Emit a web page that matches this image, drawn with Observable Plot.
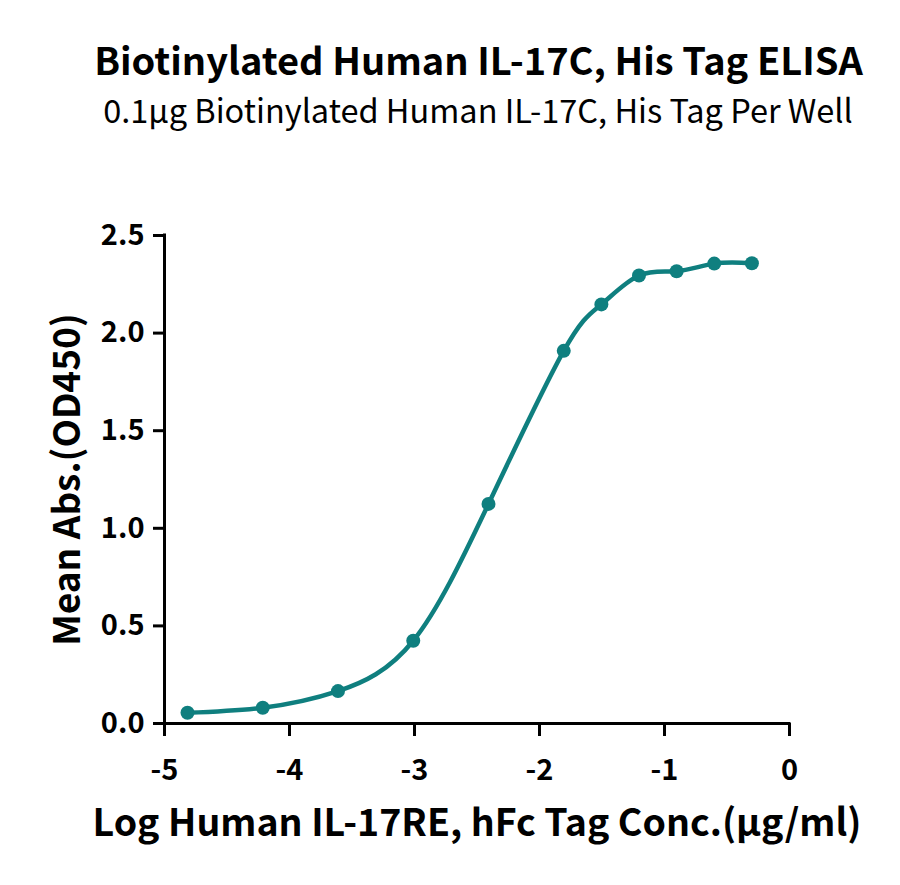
<!DOCTYPE html>
<html>
<head>
<meta charset="utf-8">
<script src="https://cdn.jsdelivr.net/npm/d3@7"></script>
<script src="https://cdn.jsdelivr.net/npm/@observablehq/plot@0.6"></script>
<style>
  html, body { margin: 0; padding: 0; background: #fff; }
  #wrap { position: relative; width: 900px; height: 885px; font-family: "Noto Sans CJK SC", "Noto Sans", sans-serif; }
  #title { position: absolute; left: 0; width: 900px; top: 35px; text-align: center; font-weight: 700; font-size: 38px; line-height: 48px; color: #000; padding-left: 57px; box-sizing: border-box; white-space: nowrap; }
  #subtitle { position: absolute; left: 0; width: 900px; top: 89px; text-align: center; font-weight: 400; font-size: 32.5px; line-height: 40px; color: #000; padding-left: 56px; box-sizing: border-box; white-space: nowrap; }
  #chart { position: absolute; left: 0; top: 0; }
</style>
</head>
<body>
<div id="wrap">
  <div id="chart"></div>
  <div id="title">Biotinylated Human IL-17C, His Tag ELISA</div>
  <div id="subtitle">0.1µg Biotinylated Human IL-17C, His Tag Per Well</div>
</div>
<script>
const logConc = [-4.816, -4.214, -3.612, -3.010, -2.408, -1.806, -1.505, -1.204, -0.903, -0.602, -0.301];
const meanAbs = [0.055, 0.081, 0.166, 0.424, 1.125, 1.909, 2.147, 2.295, 2.317, 2.356, 2.358];
const xTicks = [-5, -4, -3, -2, -1, 0];
const yTicks = [0, 0.5, 1.0, 1.5, 2.0, 2.5];
const xLabel = "Log Human IL-17RE, hFc Tag Conc.(µg/ml)";
const yLabel = "Mean Abs.(OD450)";
const teal = "#0f7f7f";

const data = logConc.map((x, i) => ({x, y: meanAbs[i]}));

const chart = Plot.plot({
  width: 900,
  height: 885,
  marginLeft: 164,
  marginRight: 111,
  marginTop: 235,
  marginBottom: 162,
  style: { fontFamily: '"Noto Sans CJK SC", "Noto Sans", sans-serif', background: "white", overflow: "visible" },
  x: { domain: [-5, 0] },
  y: { domain: [0, 2.5] },
  marks: [
    Plot.axisX({ ticks: xTicks, tickFormat: d => String(d), tickSize: 13, tickPadding: 23, strokeWidth: 3, fontSize: 29, fontWeight: 700, label: null, color: "#000" }),
    Plot.axisY({ ticks: yTicks, tickFormat: d => d.toFixed(1), tickSize: 11, tickPadding: 9, strokeWidth: 3, fontSize: 29, fontWeight: 700, label: null, color: "#000" }),
    Plot.ruleX([-5], { stroke: "#000", strokeWidth: 3, y1: 0, y2: 2.5, strokeLinecap: "square" }),
    Plot.ruleY([0], { stroke: "#000", strokeWidth: 3, x1: -5, x2: 0, strokeLinecap: "square" }),
    Plot.line(data, { x: "x", y: "y", curve: "natural", stroke: teal, strokeWidth: 4.5 }),
    Plot.dot(data, { x: "x", y: "y", r: 7, fill: teal, stroke: "none" }),
    Plot.text([xLabel], { frameAnchor: "bottom", dy: 112, textAnchor: "middle", text: d => d, fontSize: 37.5, fontWeight: 700, fill: "#000" }),
    Plot.text([yLabel], { frameAnchor: "left", dx: -96, rotate: -90, textAnchor: "middle", text: d => d, fontSize: 37, fontWeight: 700, fill: "#000" })
  ]
});
document.getElementById("chart").appendChild(chart);
</script>
</body>
</html>
